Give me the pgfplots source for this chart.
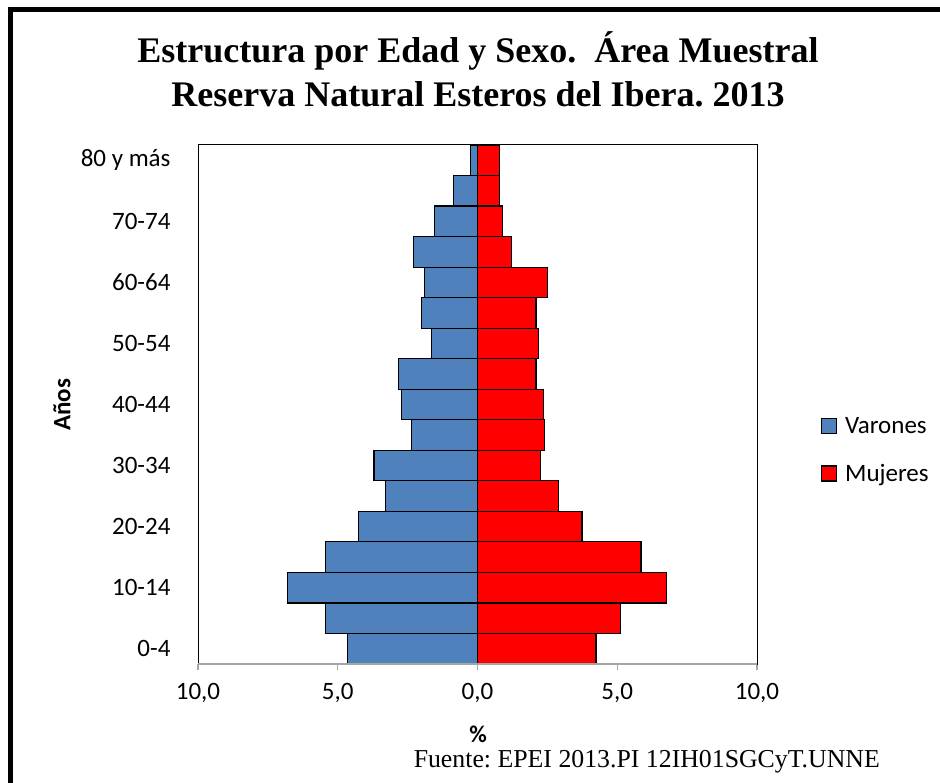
\documentclass[border=0pt]{standalone}
\usepackage{fontspec}
\usepackage{pgfplots}
\pgfplotsset{compat=1.18}
\setmainfont{Carlito}
\newfontfamily\serif{Liberation Serif}
\definecolor{varon}{HTML}{4F81BD}
\definecolor{mujer}{HTML}{FF0000}
\frenchspacing

\begin{document}
\begin{tikzpicture}[x=1pt,y=1pt]
\fill[white] (0,0) rectangle (940,782);
\useasboundingbox (0,0) rectangle (940,782);
% frame (left and top edges)
\draw[line width=5pt, line cap=rect] (10.5,0) -- (10.5,772.5) -- (945,772.5);

\begin{axis}[
  at={(198pt,118pt)}, anchor=south west,
  scale only axis, width=559pt, height=519pt,
  xmin=-10, xmax=10, ymin=-0.5, ymax=16.5,
  xbar, bar width=1, bar shift=0pt,
  xtick={-10,-5,0,5,10},
  xticklabels={{10,0},{5,0},{0,0},{5,0},{10,0}},
  ytick={0,2,...,16},
  yticklabels={0-4,10-14,20-24,30-34,40-44,50-54,60-64,70-74,80 y más},
  tick label style={font=\fontsize{25}{30}\selectfont},
  xtick pos=left, tick align=outside, major tick length=6pt,
  x tick style={gray!70, line width=1.2pt},
  ytick style={draw=none},
  xticklabel style={yshift=-10pt},
  yticklabel style={xshift=-18pt},
  axis line style={black, line width=1pt},
  legend style={at={(1.114,0.412)}, anchor=west, draw=none, fill=none,
    font=\fontsize{25}{30}\selectfont, row sep=25pt,
    inner sep=0pt,
    /tikz/every odd column/.append style={column sep=6pt}},
  legend cell align=left,
  legend image code/.code={\draw[#1, line width=1.2pt] (0pt,-7.5pt) rectangle (15pt,7.5pt);},
]
% Varones (negative side), rows 0-4 ... 80 y mas
\addplot[fill=varon, draw=black, line width=1.2pt] coordinates {
  (-4.66,0) (-5.43,1) (-6.81,2) (-5.43,3) (-4.25,4) (-3.28,5)
  (-3.70,6) (-2.36,7) (-2.73,8) (-2.82,9) (-1.64,10) (-2.00,11)
  (-1.91,12) (-2.28,13) (-1.54,14) (-0.85,15) (-0.25,16)
};
\addlegendentry{Varones}
% Mujeres (positive side)
\addplot[fill=mujer, draw=black, line width=1.2pt] coordinates {
  (4.24,0) (5.11,1) (6.77,2) (5.85,3) (3.74,4) (2.89,5)
  (2.26,6) (2.41,7) (2.36,8) (2.09,9) (2.19,10) (2.09,11)
  (2.50,12) (1.21,13) (0.89,14) (0.79,15) (0.79,16)
};
\addlegendentry{Mujeres}
\draw[gray!70, line width=1.5pt] (rel axis cs:0,0) -- (rel axis cs:1,0);
\end{axis}

% titles and labels
\node[anchor=base, font=\serif\bfseries\fontsize{36}{40}\selectfont] at (478,719)
  {Estructura por Edad y Sexo.\ \ Área Muestral};
\node[anchor=base, font=\serif\bfseries\fontsize{36}{40}\selectfont] at (478,675)
  {Reserva Natural Esteros del Ibera. 2013};
\node[font=\bfseries\fontsize{24}{28}\selectfont, inner sep=1pt] at (478,48) {\%};
\node[font=\bfseries\fontsize{25}{30}\selectfont, rotate=90] at (62,377) {Años};
\node[anchor=base east, font=\serif\fontsize{25.8}{28}\selectfont, inner sep=1pt] at (881,14)
  {Fuente: EPEI 2013.PI 12IH01SGCyT.UNNE};
\end{tikzpicture}
\end{document}
